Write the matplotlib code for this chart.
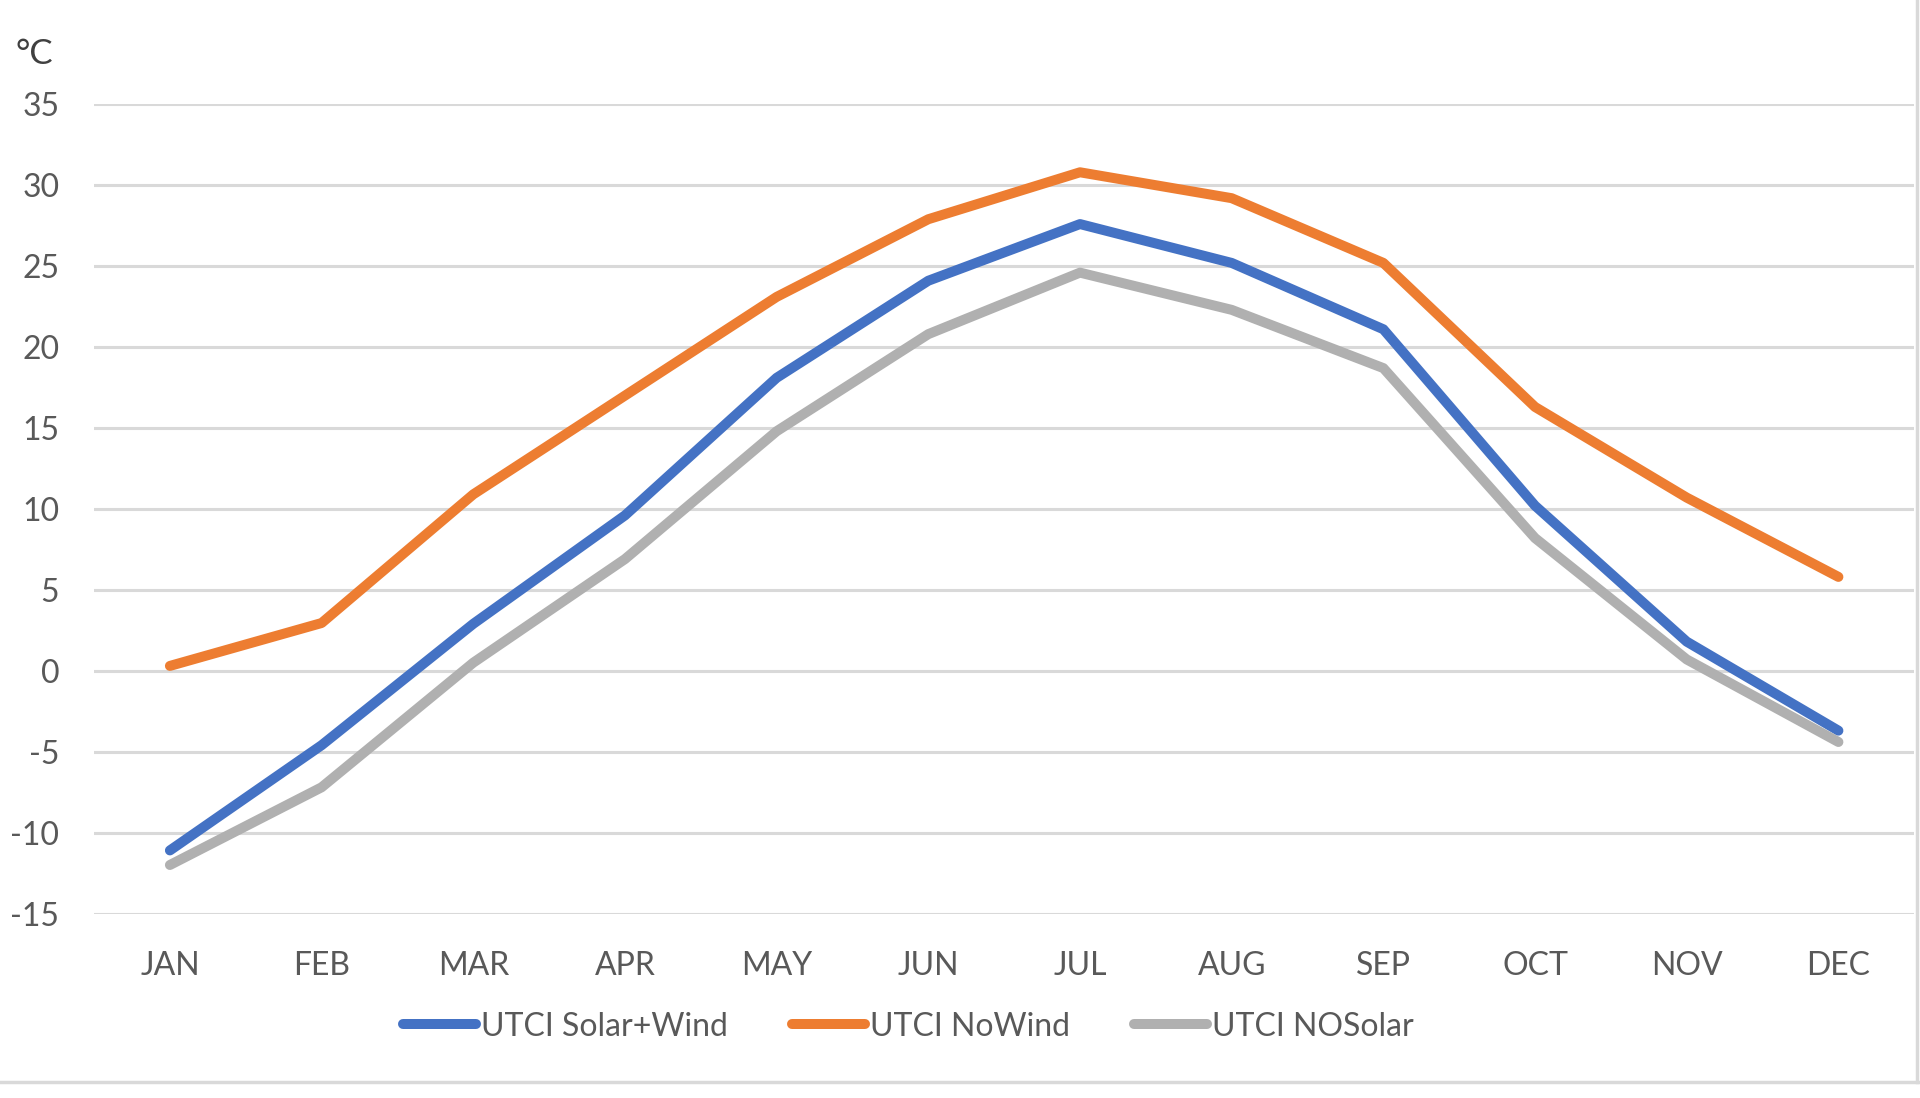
import matplotlib
matplotlib.use("Agg")
import matplotlib.pyplot as plt
from matplotlib.lines import Line2D

months = ["JAN", "FEB", "MAR", "APR", "MAY", "JUN", "JUL", "AUG", "SEP", "OCT", "NOV", "DEC"]
solar_wind = [-11.1, -4.6, 2.9, 9.6, 18.1, 24.1, 27.6, 25.2, 21.1, 10.2, 1.8, -3.7]
no_wind = [0.3, 2.95, 10.9, 17.0, 23.1, 27.9, 30.8, 29.2, 25.2, 16.3, 10.7, 5.8]
no_solar = [-12.0, -7.2, 0.5, 6.9, 14.8, 20.8, 24.6, 22.3, 18.7, 8.2, 0.7, -4.4]
yticks = [-15, -10, -5, 0, 5, 10, 15, 20, 25, 30, 35]

plt.rcParams['font.family'] = ['Lato', 'DejaVu Sans']

fig = plt.figure(figsize=(19.2, 10.98), dpi=100)
ax = fig.add_axes([0.049, 0.168, 0.948, 0.737])

x = list(range(len(months)))
kw = dict(lw=7.2, solid_capstyle="round", solid_joinstyle="round", zorder=3)
ax.plot(x, solar_wind, color="#4472C4", label="UTCI Solar+Wind", **kw)
ax.plot(x, no_wind, color="#ED7D31", label="UTCI NoWind", **kw)
ax.plot(x, no_solar, color="#B0B0B0", label="UTCI NOSolar", **kw)

ax.set_xlim(-0.5, len(months) - 0.5)
ax.set_ylim(-15, 35)
ax.set_yticks(yticks)
ax.set_yticklabels([str(v) for v in yticks])
ax.set_xticks(x)
ax.set_xticklabels(months)
ax.grid(axis="y", color="#D9D9D9", lw=2.2, zorder=0)
ax.grid(axis="x", visible=False)
for s in ax.spines.values():
    s.set_visible(False)
ax.tick_params(axis="both", length=0, labelsize=23, labelcolor="#595959")
ax.tick_params(axis="y", pad=25)
ax.tick_params(axis="x", pad=27)

fig.text(0.008, 0.951, "°C", fontsize=25, color="#404040", ha="left", va="center")

leg = fig.legend(loc="center", bbox_to_anchor=(0.473, 0.065), ncol=3, frameon=False,
                 fontsize=23, handlelength=2.3, handletextpad=0.15, columnspacing=2.0)
for t in leg.get_texts():
    t.set_color("#595959")
for h in leg.legend_handles:
    h.set_linewidth(7.2)

fig.add_artist(Line2D([0, 1], [0.0145, 0.0145], color="#D9D9D9", lw=2.5, transform=fig.transFigure))
fig.add_artist(Line2D([0.9985, 0.9985], [0.0145, 1], color="#D9D9D9", lw=2.5, transform=fig.transFigure))

fig.savefig("out.png", dpi=100, facecolor="white")
